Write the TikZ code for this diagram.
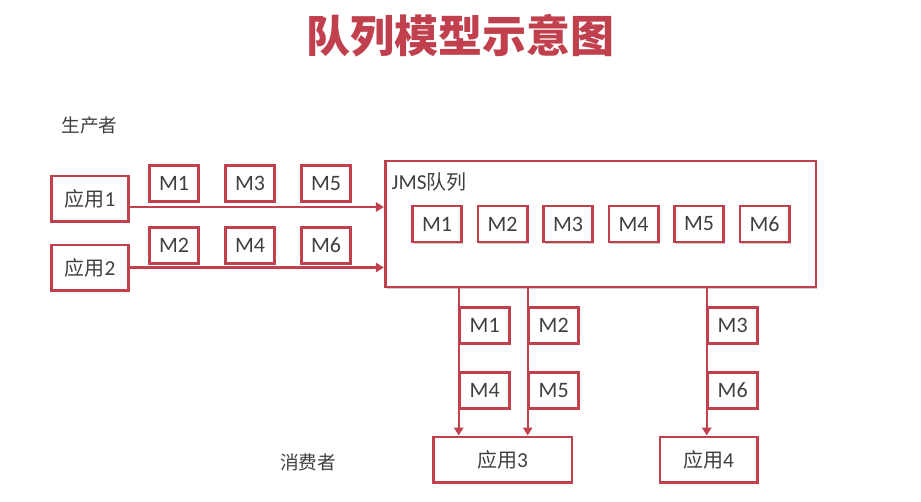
\documentclass[tikz,border=0pt]{standalone}
\usepackage{fontspec}
\setmainfont{Carlito}
\newfontfamily\cjk{Noto Sans CJK SC}
\usepackage{tikz}
\usetikzlibrary{arrows.meta,positioning,shadows}
\definecolor{qred}{HTML}{C0404E}
\definecolor{qtext}{HTML}{404040}

\begin{document}
\begin{tikzpicture}[x=0.75pt, y=-0.75pt, >={Triangle[width=7pt,length=6pt]},
  every node/.style={text=qtext, align=center},
  box/.style={draw=qred, line width=2pt, fill=white, inner sep=0pt,
    drop shadow={shadow xshift=1.2pt, shadow yshift=-1.2pt, opacity=0.2, fill=black}},
  msg/.style={box, minimum width=37pt, minimum height=27pt, font=\fontsize{16.5}{19}\selectfont},
  app/.style={box, minimum height=34pt, font=\fontsize{16}{19}\selectfont},
  flow/.style={->, qred, line width=1.6pt}]
  \fill[white] (0,0) rectangle (921,501);
  \useasboundingbox (0,0) rectangle (921,501);

  \node[text=qred, font=\cjk\bfseries\fontsize{33}{36}\selectfont] (title) at (460,36) {队列模型示意图};
  \node[font=\cjk\fontsize{14}{16}\selectfont] (prod) at (89.5,125) {生产者};
  \node[font=\cjk\fontsize{14}{16}\selectfont] (cons) at (308,462) {消费者};

  % producers
  \node[app, minimum width=57.5pt] (app1) at (90,198.5) {{\cjk\fontsize{15}{18}\selectfont 应用}1};
  \node[app, minimum width=57.5pt] (app2) at (90,267.5) {{\cjk\fontsize{15}{18}\selectfont 应用}2};
  \node[msg] (p1) at (174,183.5) {M1};
  \node[msg] (p3) at (250,183.5) {M3};
  \node[msg] (p5) at (326,183.5) {M5};
  \node[msg] (p2) at (174,245.5) {M2};
  \node[msg] (p4) at (250,245.5) {M4};
  \node[msg] (p6) at (326,245.5) {M6};

  % queue
  \node[box, minimum width=323pt, minimum height=94.5pt] (queue) at (600.5,224) {};
  \node[anchor=west, font=\fontsize{16}{19}\selectfont] (qlabel) at (387,182) {JMS{\cjk\fontsize{15}{18}\selectfont 队列}};
  \node[msg] (q1) at (437,224) {M1};
  \node[msg] (q2) at (502.5,224) {M2};
  \node[msg] (q3) at (568,224) {M3};
  \node[msg] (q4) at (633.5,224) {M4};
  \node[msg] (q5) at (699,224) {M5};
  \node[msg] (q6) at (764.5,224) {M6};

  % consumers
  \node[app, minimum width=104pt] (app3) at (502.5,459.5) {{\cjk\fontsize{15}{18}\selectfont 应用}3};
  \node[app, minimum width=73pt] (app4) at (708.5,459.5) {{\cjk\fontsize{15}{18}\selectfont 应用}4};
  \node[msg] (c1) at (484.7,325.5) {M1};
  \node[msg] (c4) at (484.7,390.5) {M4};
  \node[msg] (c2) at (553.7,325.5) {M2};
  \node[msg] (c5) at (553.7,390.5) {M5};
  \node[msg] (c3) at (732.7,325.5) {M3};
  \node[msg] (c6) at (732.7,390.5) {M6};

  \coordinate (out1) at ([yshift=-6.4pt]app1.east);
  \draw[flow] (out1) -- (out1 -| queue.west);
  \draw[flow] (app2.east) -- (app2.east -| queue.west);
  \draw[flow] (c1.west |- queue.south) -- (c1.west |- app3.north);
  \draw[flow] (c2.west |- queue.south) -- (c2.west |- app3.north);
  \draw[flow] (c3.west |- queue.south) -- (c3.west |- app4.north);
\end{tikzpicture}
\end{document}
